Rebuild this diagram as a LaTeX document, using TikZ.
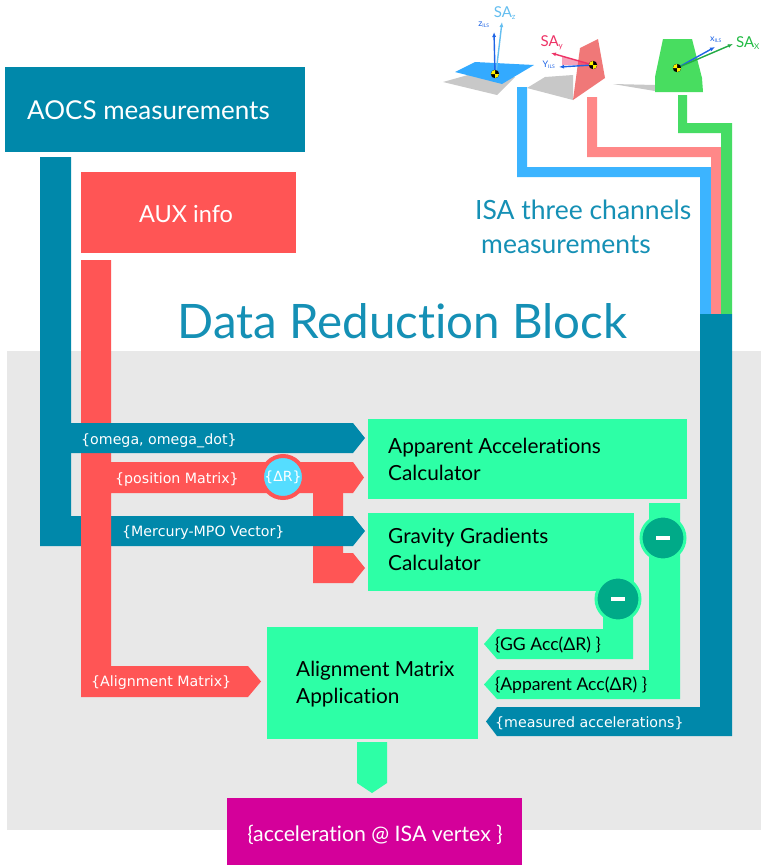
\documentclass[tikz,border=0pt]{standalone}
\usepackage{fontspec}
\setmainfont{Lato}[Ligatures={NoCommon,NoRare,NoContextual}]
\newfontfamily\labfont{DejaVu Sans}
\usetikzlibrary{arrows.meta}
\definecolor{aocs}{RGB}{0,136,170}
\definecolor{aux}{RGB}{255,85,85}
\definecolor{calc}{RGB}{45,255,166}
\definecolor{bg}{RGB}{232,232,232}
\definecolor{ttl}{RGB}{21,144,181}
\definecolor{mag}{RGB}{212,0,154}
\definecolor{isab}{RGB}{60,180,255}
\definecolor{isap}{RGB}{255,136,136}
\definecolor{isag}{RGB}{70,220,100}
\definecolor{dgreen}{RGB}{0,170,136}
\definecolor{cyanc}{RGB}{85,221,255}
\definecolor{shad}{RGB}{200,200,200}
\definecolor{plate}{RGB}{51,170,255}
\definecolor{wedge}{RGB}{240,120,120}
\definecolor{trap}{RGB}{72,221,96}
\definecolor{ils}{RGB}{30,100,230}
\definecolor{saz}{RGB}{100,190,240}
\definecolor{say}{RGB}{238,51,102}
\definecolor{sax}{RGB}{34,187,68}
\definecolor{saxl}{RGB}{34,170,68}
\begin{document}
\begin{tikzpicture}[x=1pt,y=-1pt,
  boxtxt/.style={inner sep=0pt,anchor=base west,font=\fontsize{20.8}{27}\selectfont},
  lab/.style={inner sep=0pt,anchor=base west,text=white,font=\labfont\fontsize{14.2}{15}\selectfont},
  blab/.style={inner sep=0pt,anchor=base west,text=black,font=\fontsize{17.6}{18}\selectfont},
  minus/.style={circle,fill=dgreen,draw=calc,line width=3pt,minimum size=44pt,inner sep=0pt},
  axarr/.style={-{Latex[length=5pt,width=4pt]},line width=1.4pt},
  small/.style={inner sep=0pt,font=\fontsize{9}{9}\selectfont},
  sa/.style={inner sep=0pt,font=\fontsize{15}{15}\selectfont}]
\useasboundingbox (0,0) rectangle (761,865);
\fill[white] (0,0) rectangle (761,865);
\fill[bg] (7,351) rectangle (761,830);

% title texts
\node[inner sep=0pt,anchor=base,text=ttl,font=\fontsize{47.5}{47.5}\selectfont] (title) at (402.5,338) {Data Reduction Block};
\node[inner sep=0pt,anchor=base west,text=ttl,font=\fontsize{26.5}{26.5}\selectfont] (isa1) at (475,219) {ISA three channels};
\node[inner sep=0pt,anchor=base west,text=ttl,font=\fontsize{26.5}{26.5}\selectfont] (isa2) at (481,253) {measurements};

% source boxes
\fill[aocs] (5,67) rectangle (305,152);
\node[inner sep=0pt,anchor=base west,text=white,font=\fontsize{26}{26}\selectfont] (aocs) at (27,119) {AOCS measurements};
\fill[aux] (81,172) rectangle (296,253);
\node[inner sep=0pt,anchor=base,text=white,font=\fontsize{23.5}{23.5}\selectfont] (auxinfo) at (186,222) {AUX info};

% ISA channels
\fill[isab] (517,87) -- (527,87) -- (527,167) -- (711,167) -- (711,314) -- (700,314) -- (700,177) -- (517,177) -- cycle;
\fill[isap] (587,97) -- (597,97) -- (597,147) -- (721,147) -- (721,314) -- (711,314) -- (711,157) -- (587,157) -- cycle;
\fill[isag] (678,95) -- (687,95) -- (687,123) -- (732,123) -- (732,314) -- (721,314) -- (721,133) -- (678,133) -- cycle;
\fill[aocs] (700,314) -- (732,314) -- (732,736) -- (497,736) -- (486,721.5) -- (497,707) -- (700,707) -- cycle;

% connectors (left)
\fill[aux] (313,490) -- (343,490) -- (343,553) -- (353,553) -- (365,568) -- (353,583) -- (313,583) -- cycle;
\fill[aocs] (40,157) -- (71,157) -- (71,516) -- (353,516) -- (365,531) -- (353,546) -- (40,546) -- cycle;
\fill[aux] (81,260) -- (111,260) -- (111,462) -- (353,462) -- (364,477.5) -- (353,493) -- (111,493) -- (111,666) -- (248,666) -- (261,681.5) -- (248,697) -- (81,697) -- cycle;
\fill[aocs] (40,423) -- (353,423) -- (365,438) -- (353,453) -- (40,453) -- cycle;

\node[lab] (lomega) at (81,444) {\{omega, omega\_dot\}};
\node[lab] (lpos) at (115,483) {\{position Matrix\}};
\node[lab] (lmerc) at (122,536.5) {\{Mercury-MPO Vector\}};
\node[lab] (lalign) at (91,686.5) {\{Alignment Matrix\}};
\node[circle,fill=cyanc,draw=aux,line width=4pt,minimum size=42pt,inner sep=0pt,text=white,font=\labfont\fontsize{14}{14}\selectfont] (dr) at (283,477) {\{ΔR\}};

% calculators
\fill[calc] (368,419) rectangle (687,499);
\node[boxtxt,align=left] (appc) at (388,480) {Apparent Accelerations\\Calculator};
\fill[calc] (368,513) rectangle (634,591);
\node[boxtxt,align=left] (ggc) at (388,570) {Gravity Gradients\\Calculator};
\fill[calc] (267,627) rectangle (478,739);
\node[boxtxt,align=left] (amc) at (296,703) {Alignment Matrix\\Application};

% green channels
\fill[calc] (649,503) -- (680,503) -- (680,699) -- (497,699) -- (484,684.5) -- (497,670) -- (649,670) -- cycle;
\fill[calc] (603,591) -- (633,591) -- (633,659) -- (497,659) -- (484,644) -- (497,629) -- (603,629) -- cycle;
\node[minus] (m1) at (663,538) {};
\fill[white] ([xshift=-7pt,yshift=-2pt]m1.center) rectangle ([xshift=7pt,yshift=2pt]m1.center);
\node[minus] (m2) at (618,599) {};
\fill[white] ([xshift=-7pt,yshift=-2pt]m2.center) rectangle ([xshift=7pt,yshift=2pt]m2.center);

\node[blab] (lgg) at (495,650) {\{GG Acc(ΔR) \}};
\node[blab] (lapp) at (495,690.5) {\{Apparent Acc(ΔR) \}};
\node[lab] (lmeas) at (495,727) {\{measured accelerations\}};

% output
\fill[calc] (357,742) -- (387,742) -- (387,783) -- (372,793) -- (357,783) -- cycle;
\fill[mag] (227,798) rectangle (522,865);
\node[inner sep=0pt,anchor=base,text=white,font=\fontsize{21.3}{21.3}\selectfont] (out) at (375,841) {\{acceleration @ ISA vertex \}};

% ---- ISA sensors illustration ----
% blue plate (SA z)
\fill[shad] (443,82) -- (468,75) -- (515,77) -- (497,95) -- cycle;
\fill[plate] (455,72) -- (475,62) -- (534,65) -- (502,84) -- cycle;
\draw[axarr,saz] (496,73) -- (502,22);
\draw[axarr,ils] (495,74) -- (494,32);
\fill[black] (495,74) circle (4.2);
\fill[yellow] (495,74) -- (499,74) arc[start angle=0,end angle=90,radius=4] -- cycle;
\fill[yellow] (495,74) -- (491,74) arc[start angle=180,end angle=270,radius=4] -- cycle;
\node[small,text=ils] (zils) at (484,25) {z\textsubscript{\fontsize{5}{5}\selectfont ILS}};
\node[sa,text=saz] (saz) at (505,13) {SA\textsubscript{\fontsize{8}{8}\selectfont z}};

% red wedge (SA y)
\fill[shad] (527,88) -- (545,77) -- (573,75) -- (573,100) -- cycle;
\fill[wedge] (580,48) -- (598,39) -- (605,78) -- (573,100) -- cycle;
\fill[say,opacity=0.45] (593,65) -- (562,56) -- (562,65) -- cycle;
\draw[axarr,say] (593,65) -- (551,53);
\draw[axarr,ils] (593,65) -- (559,67);
\fill[black] (593,65) circle (4.2);
\fill[yellow] (593,65) -- (597,65) arc[start angle=0,end angle=90,radius=4] -- cycle;
\fill[yellow] (593,65) -- (589,65) arc[start angle=180,end angle=270,radius=4] -- cycle;
\node[small,text=ils] (yils) at (549,65) {Y\textsubscript{\fontsize{5}{5}\selectfont ILS}};
\node[sa,text=say] (say) at (552,43) {SA\textsubscript{\fontsize{8}{8}\selectfont y}};

% green trapezoid (SA x)
\fill[shad] (613,84) -- (655,85) -- (655,91) -- cycle;
\fill[trap] (663,39) -- (692,39) -- (702,78) -- (703,92) -- (655,92) -- (655,77) -- cycle;
\draw[axarr,ils] (677,68) -- (715,47);
\draw[axarr,saxl] (677,68) -- (733,44);
\fill[black] (677,68) circle (4.2);
\fill[yellow] (677,68) -- (681,68) arc[start angle=0,end angle=90,radius=4] -- cycle;
\fill[yellow] (677,68) -- (673,68) arc[start angle=180,end angle=270,radius=4] -- cycle;
\node[small,text=ils] (xils) at (716,40) {x\textsubscript{\fontsize{5}{5}\selectfont ILS}};
\node[sa,text=sax] (sax) at (748,43) {SA\textsubscript{\fontsize{8}{8}\selectfont X}};
\end{tikzpicture}
\end{document}
